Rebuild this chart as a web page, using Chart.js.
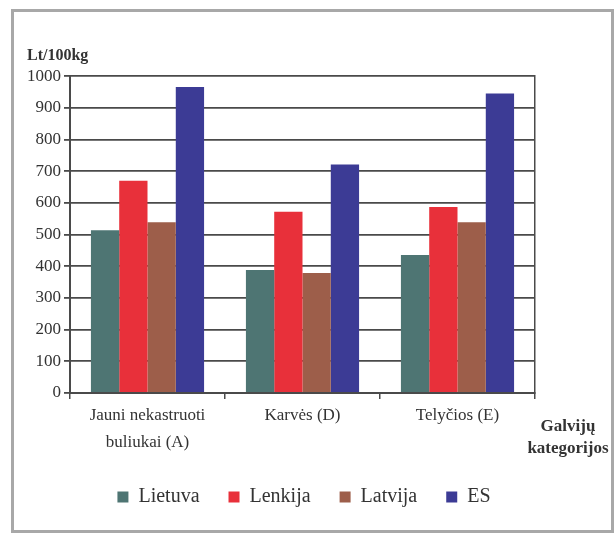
<!DOCTYPE html>
<html>
<head>
<meta charset="utf-8">
<script src="https://cdn.jsdelivr.net/npm/chart.js@4/dist/chart.umd.min.js"></script>
<style>
  html, body { margin:0; padding:0; background:#fff; }
  #wrap { width:616px; height:534px; position:relative; }
</style>
</head>
<body>
<div id="wrap"><canvas id="grafikas" width="616" height="534"></canvas></div>
<script>
// Duomenys
const kategorijos = [['Jauni nekastruoti', 'buliukai (A)'], 'Karvės (D)', 'Telyčios (E)'];
const lietuva = [514, 388, 436];
const lenkija = [670, 572, 587];
const latvija = [539, 379, 539];
const es = [966, 721, 945];
const yTicks = [0, 100, 200, 300, 400, 500, 600, 700, 800, 900, 1000];

const serif = '"Liberation Serif", "Times New Roman", serif';
const tamsi = '#4a4a4a';

// remelis + asies pavadinimas desineje
const remelis = {
  id: 'remelis',
  beforeDraw(chart){
    const c = chart.ctx;
    c.save();
    c.fillStyle = '#fff';
    c.fillRect(0, 0, chart.width, chart.height);
    c.restore();
  },
  afterDraw(chart){
    const c = chart.ctx;
    c.save();
    c.strokeStyle = '#a8a8a8';
    c.lineWidth = 3;
    c.strokeRect(12.5, 10.5, 600, 521);
    c.fillStyle = '#333';
    c.font = 'bold 17px ' + serif;
    c.textAlign = 'center';
    c.textBaseline = 'middle';
    const x = chart.chartArea.right + 33;
    c.fillText('Galvijų', x, 427);
    c.fillText('kategorijos', x, 449);
    c.restore();
  }
};

new Chart(document.getElementById('grafikas'), {
  type: 'bar',
  data: {
    labels: kategorijos,
    datasets: [
      { label: 'Lietuva', data: lietuva, backgroundColor: '#4e7573' },
      { label: 'Lenkija', data: lenkija, backgroundColor: '#e8303a' },
      { label: 'Latvija', data: latvija, backgroundColor: '#9d5e4a' },
      { label: 'ES', data: es, backgroundColor: '#3c3b95' }
    ]
  },
  options: {
    responsive: false,
    animation: false,
    devicePixelRatio: 1,
    layout: { padding: { left: 27, right: 35, top: 9, bottom: 17 } },
    datasets: { bar: { categoryPercentage: 0.73, barPercentage: 1.0, yAxisID: 'y' } },
    plugins: {
      tooltip: { enabled: false },
      title: {
        display: true,
        text: 'Lt/100kg',
        align: 'start',
        color: '#333',
        font: { family: serif, size: 16, weight: 'bold' },
        padding: { top: 37, bottom: 11 }
      },
      legend: {
        position: 'bottom',
        labels: {
          color: '#333',
          font: { family: serif, size: 20 },
          boxWidth: 11,
          boxHeight: 11,
          padding: 29
        }
      }
    },
    scales: {
      x: {
        afterFit: s => { s.height = 65; },
        grid: { drawOnChartArea: false, drawTicks: true, tickLength: 6, color: tamsi, lineWidth: 1.5 },
        border: { color: tamsi, width: 2 },
        ticks: { color: '#333', font: { family: serif, size: 17, lineHeight: 1.6 }, padding: 3, maxRotation: 0 }
      },
      y: {
        min: 0, max: 1000,
        afterFit: s => { s.width = 43; },
        afterBuildTicks: s => { s.ticks = yTicks.map(v => ({ value: v })); },
        grid: { color: tamsi, lineWidth: 1.8, tickLength: 6 },
        border: { color: tamsi, width: 2 },
        ticks: { color: '#333', font: { family: serif, size: 17 }, padding: 3, callback: v => String(v) }
      },
      y2: {
        position: 'right',
        min: 0, max: 1000,
        afterFit: s => { s.width = 46; },
        grid: { drawOnChartArea: false, drawTicks: false },
        border: { color: tamsi, width: 1.5 },
        ticks: { display: false }
      }
    }
  },
  plugins: [remelis]
});
</script>
</body>
</html>
